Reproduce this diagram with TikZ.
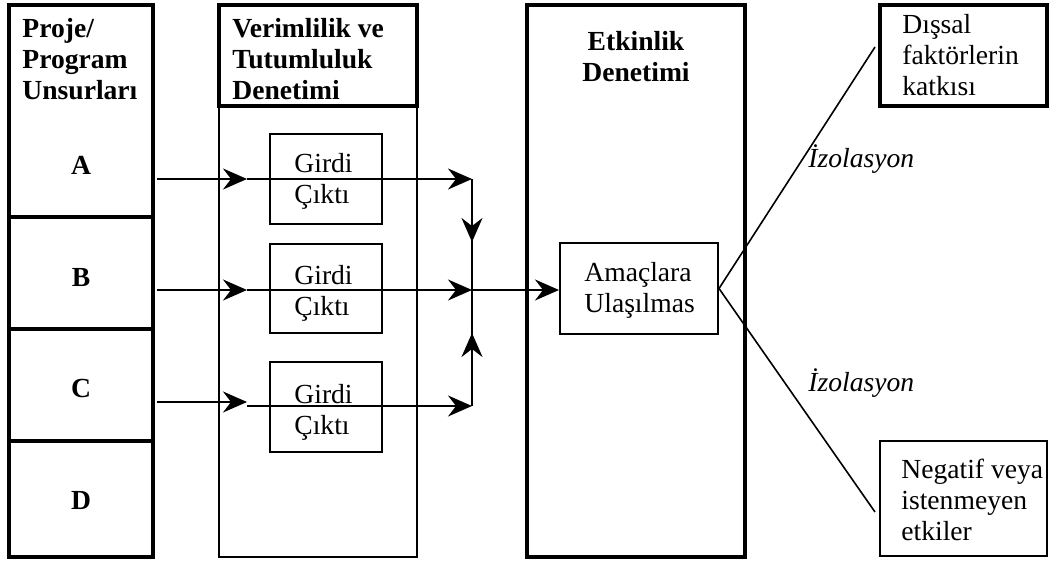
\documentclass[tikz,border=0pt]{standalone}
\usepackage{fontspec}
\setmainfont{Liberation Serif}
\usetikzlibrary{arrows.meta,fit}
\begin{document}
\begin{tikzpicture}[x=0.5pt,y=-0.5pt,
  thickbox/.style={draw,line width=1.7pt,inner sep=0pt},
  thinbox/.style={draw,line width=1pt,inner sep=0pt},
  txt/.style={inner sep=0pt,font=\fontsize{13.8}{15.5}\selectfont,align=left},
  btxt/.style={inner sep=0pt,font=\fontsize{13.8}{15.5}\selectfont\bfseries,align=left},
  itxt/.style={inner sep=0pt,font=\fontsize{13.8}{15.5}\selectfont\itshape},
  arr/.style={line width=1pt,-{Stealth[length=12pt,width=10.5pt,inset=4pt]}},
  ln/.style={line width=1pt},
  iso/.style={line width=0.8pt}]
\useasboundingbox (0,0) rectangle (1049,561);

% left column
\node[thickbox,fit={(9,5)(153,217)}] (cellA) {};
\node[thickbox,fit={(9,217)(153,329)}] (cellB) {};
\node[thickbox,fit={(9,329)(153,441)}] (cellC) {};
\node[thickbox,fit={(9,441)(153,557)}] (cellD) {};
\node[btxt,anchor=base west] (hdrL) at (22,100) {Proje/\\Program\\Unsurları};
\node[btxt,anchor=base] (labA) at (81,175) {A};
\node[btxt,anchor=base] (labB) at (81,286) {B};
\node[btxt,anchor=base] (labC) at (81,397) {C};
\node[btxt,anchor=base] (labD) at (81,509) {D};

% middle column
\node[thinbox,fit={(219,5)(417,557)}] (colM) {};
\node[thickbox,fit={(219,5)(417,106)}] (hdrMbox) {};
\node[btxt,anchor=base west] (hdrM) at (232,100) {Verimlilik ve\\Tutumluluk\\Denetimi};
\node[thinbox,fit={(270,134)(382,224)}] (g1) {};
\node[thinbox,fit={(270,244)(382,333)}] (g2) {};
\node[thinbox,fit={(270,362)(382,452)}] (g3) {};
\node[txt,anchor=base west] (t1) at (294,204) {Girdi\\Çıktı};
\node[txt,anchor=base west] (t2) at (294,315) {Girdi\\Çıktı};
\node[txt,anchor=base west] (t3) at (294,434) {Girdi\\Çıktı};

% right column
\node[thickbox,fit={(527,5)(745,557)}] (colE) {};
\node[btxt,anchor=base,align=center] (hdrE) at (636,82) {Etkinlik\\Denetimi};
\node[thinbox,fit={(560,243)(718,334)}] (am) {};
\node[txt,anchor=base west] (amt) at (584,313) {Amaçlara\\Ulaşılmas};

% outer boxes
\node[thickbox,fit={(880,5)(1047,106)}] (dsbox) {};
\node[txt,anchor=base west] (ds) at (902,96) {Dışsal\\faktörlerin\\katkısı};
\node[thinbox,fit={(880,441)(1047,556)}] (ngbox) {};
\node[txt,anchor=base west] (ng) at (901,540) {Negatif veya\\istenmeyen\\etkiler};

% coordinates
\coordinate (a0) at (157,179); \coordinate (a1) at (247,179); \coordinate (a2) at (472,179);
\coordinate (b0) at (157,290); \coordinate (b1) at (247,290); \coordinate (J) at (472,290);
\coordinate (c0) at (157,402); \coordinate (c1) at (247,402);
\coordinate (c2) at (247,406); \coordinate (c3) at (472,406);
\coordinate (dn) at (472,242); \coordinate (up) at (472,333);
\coordinate (isoU) at (875,47); \coordinate (isoL) at (875,512);

% arrows
\draw[arr] (a0) -- (a1);
\draw[arr] (a1) -- (a2);
\draw[arr] (b0) -- (b1);
\draw[arr] (b1) -- (J);
\draw[arr] (c0) -- (c1);
\draw[arr] (c2) -- (c3);
\draw[ln] (a2) -- (J);
\draw[arr] (a2) -- (dn);
\draw[ln] (c3) -- (J);
\draw[arr] (c3) -- (up);
\draw[arr] (J) -- (J -| am.west);

% isolation lines
\draw[iso] (am.east) -- (isoU);
\draw[iso] (am.east) -- (isoL);
\node[itxt,anchor=base west] (izU) at (808,168) {İzolasyon};
\node[itxt,anchor=base west] (izL) at (808,391) {İzolasyon};
\end{tikzpicture}
\end{document}
